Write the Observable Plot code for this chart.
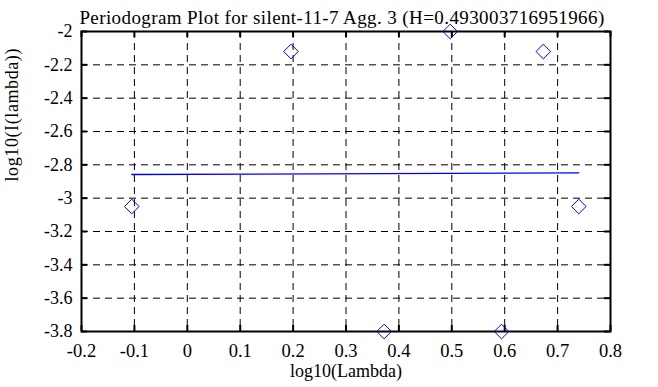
<!DOCTYPE html>
<html>
<head>
<meta charset="utf-8">
<script src="https://cdn.jsdelivr.net/npm/d3@7"></script>
<script src="https://cdn.jsdelivr.net/npm/@observablehq/plot@0.6"></script>
<style>
  html, body { margin: 0; padding: 0; background: #fff; }
  svg { display: block; }
  svg .title-txt text { letter-spacing: 0.4px; }
  svg .ylab-txt text { letter-spacing: 0.6px; }
</style>
</head>
<body>
<div id="chart"></div>
<script>
// Data
const logLambda = [-0.105, 0.196, 0.372, 0.497, 0.594, 0.673, 0.740];
const logI      = [-3.05, -2.12, -3.80, -2.00, -3.80, -2.12, -3.05];
const fitX = [-0.105, 0.740];
const fitY = [-2.858, -2.848];
const xTicks = [-0.2, -0.1, 0, 0.1, 0.2, 0.3, 0.4, 0.5, 0.6, 0.7, 0.8];
const yTicks = [-3.8, -3.6, -3.4, -3.2, -3, -2.8, -2.6, -2.4, -2.2, -2];
const titleText = "Periodogram Plot for silent-11-7 Agg. 3 (H=0.493003716951966)";
const xLabel = "log10(Lambda)";
const yLabel = "log10(I(lambda))";

const points = logLambda.map((x, i) => ({x, y: logI[i]}));
const fit = fitX.map((x, i) => ({x, y: fitY[i]}));

const W = 658, H = 387;
const mL = 81, mR = 48, mT = 31, mB = 56;
const innerW = W - mL - mR, innerH = H - mT - mB;
const fmt = d => String(+d.toFixed(1));

const chart = Plot.plot({
  width: W, height: H,
  marginLeft: mL, marginRight: mR, marginTop: mT, marginBottom: mB,
  style: {fontFamily: "'Liberation Serif', 'Times New Roman', serif", fontSize: "18px", color: "#000", background: "#fff"},
  x: {domain: [-0.2, 0.8], ticks: xTicks, tickFormat: fmt, label: null},
  y: {domain: [-3.8, -2], ticks: yTicks, tickFormat: fmt, label: null},
  marks: [
    Plot.gridX(xTicks, {stroke: "#000", strokeOpacity: 1, strokeDasharray: "7,5"}),
    Plot.gridY(yTicks, {stroke: "#000", strokeOpacity: 1, strokeDasharray: "7,5"}),
    Plot.axisX(xTicks, {tickSize: 0, tickPadding: 12, tickFormat: fmt, fontSize: 18.5, label: null}),
    Plot.axisY(yTicks, {tickSize: 0, tickPadding: 9, tickFormat: fmt, fontSize: 18, label: null}),
    // inward ticks on all four sides
    Plot.tickX(xTicks, {x: d => d, insetTop: innerH - 6, stroke: "#000", strokeWidth: 2}),
    Plot.tickX(xTicks, {x: d => d, insetBottom: innerH - 6, stroke: "#000", strokeWidth: 2}),
    Plot.tickY(yTicks, {y: d => d, insetRight: innerW - 6, stroke: "#000", strokeWidth: 2}),
    Plot.tickY(yTicks, {y: d => d, insetLeft: innerW - 6, stroke: "#000", strokeWidth: 2}),
    Plot.frame({stroke: "#000", strokeWidth: 2}),
    Plot.line(fit, {x: "x", y: "y", stroke: "#0000ff", strokeWidth: 1.3}),
    Plot.dot(points, {x: "x", y: "y", symbol: "diamond2", r: 6.6, stroke: "#0000ff", fill: "none", strokeWidth: 1}),
    Plot.text([titleText], {frameAnchor: "top", dy: -21, dx: -4, fontSize: 19, fill: "#000", text: d => d, className: "title-txt"}),
    Plot.text([xLabel], {frameAnchor: "bottom", dy: 45, fontSize: 18, fill: "#000", text: d => d}),
    Plot.text([yLabel], {frameAnchor: "left", dx: -69, rotate: -90, fontSize: 18, fill: "#000", text: d => d, className: "ylab-txt"})
  ]
});
document.getElementById("chart").appendChild(chart);
</script>
</body>
</html>
